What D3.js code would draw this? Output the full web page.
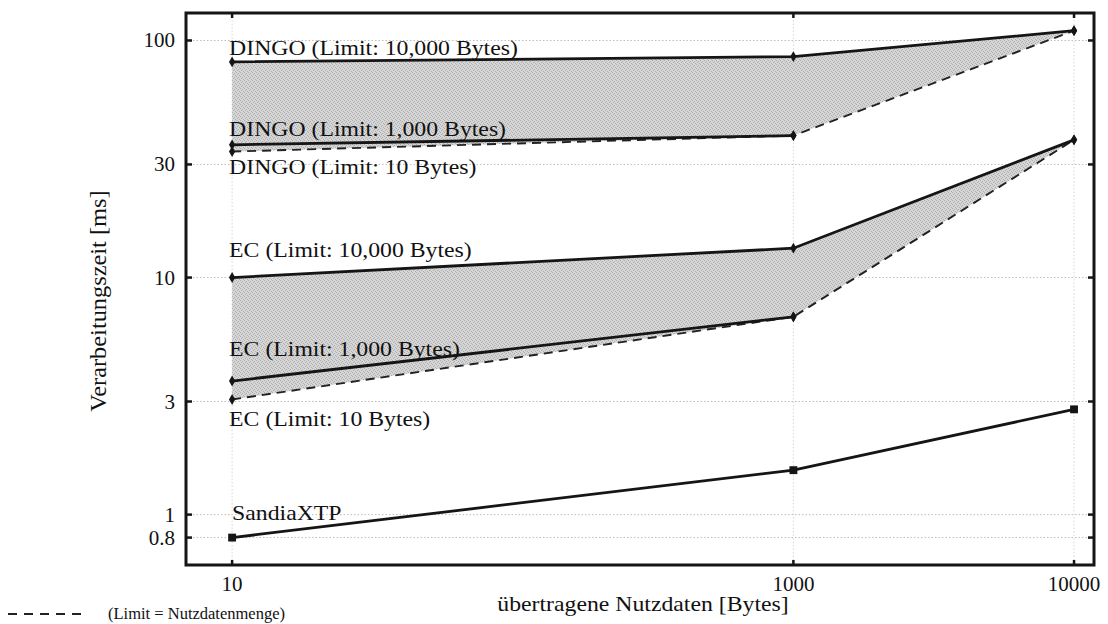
<!DOCTYPE html>
<html><head><meta charset="utf-8">
<script src="https://cdn.jsdelivr.net/npm/d3@7"></script>
<style>body{margin:0;background:#fff}</style>
</head><body><svg id="c" width="1108" height="624"></svg>
<script>
// ---- data ----
const payload = [10, 1000, 10000];
const xTicks = [10, 1000, 10000];
const yTicks = [100, 30, 10, 3, 1, 0.8];
const dingo10000 = [81.2, 85.5, 110];
const dingo1000 = [36.3, 39.7];
const dingoLimitEq = [34.0, 39.7, 110];
const ec10000 = [10.0, 13.3, 38.1];
const ec1000 = [3.66, 6.83];
const ecLimitEq = [3.06, 6.83, 38.1];
const sandia = [0.80, 1.54, 2.78];
const labelTexts = ["DINGO (Limit: 10,000 Bytes)", "DINGO (Limit: 1,000 Bytes)", "DINGO (Limit: 10 Bytes)",
  "EC (Limit: 10,000 Bytes)", "EC (Limit: 1,000 Bytes)", "EC (Limit: 10 Bytes)", "SandiaXTP"];
const labelBaselines = [55, 136, 174, 257, 356, 426, 520];
const xTitle = "übertragene Nutzdaten [Bytes]";
const yTitle = "Verarbeitungszeit [ms]";
const legendText = "(Limit = Nutzdatenmenge)";

// ---- layout ----
const L = 186, R = 1094, T = 13, B = 565;
const svg = d3.select("#c");
const FONT = "'Liberation Serif','Times New Roman',serif";
const x = d3.scaleLog().domain([6.85, 11780]).range([L, R]);
const y = d3.scaleLog().domain([0.613, 130.6]).range([B, T]);

// pattern for shaded regions
const defs = svg.append("defs");
const pat = defs.append("pattern").attr("id", "tex").attr("width", 4).attr("height", 4)
  .attr("patternUnits", "userSpaceOnUse");
pat.append("rect").attr("width", 4).attr("height", 4).attr("fill", "#d6d6d6");
[[0,0],[2,1],[1,2],[3,3]].forEach(p => pat.append("rect").attr("x", p[0]).attr("y", p[1])
  .attr("width", 1).attr("height", 1).attr("fill", "#adadad"));

function stext(g, str, px, py, size, sx, anchor) {
  return g.append("text").attr("transform", `translate(${px},${py}) scale(${sx},1)`)
    .attr("font-family", FONT).attr("font-size", size).attr("fill", "#111")
    .attr("text-anchor", anchor || "start").text(str);
}

// grid
const grid = svg.append("g").attr("stroke", "#bdbdbd").attr("stroke-width", 1).attr("stroke-dasharray", "1.5,2");
yTicks.forEach(v => grid.append("line").attr("x1", L).attr("x2", R).attr("y1", y(v)).attr("y2", y(v)));
xTicks.forEach(v => grid.append("line").attr("x1", x(v)).attr("x2", x(v)).attr("y1", T).attr("y2", B).attr("stroke", "#d6d6d6"));

// shaded areas
const idx = [0, 1, 2];
function band(top, bot) {
  return d3.area().x(i => x(payload[i])).y0(i => y(bot[i])).y1(i => y(top[i]))(idx);
}
svg.append("path").attr("d", band(dingo10000, dingoLimitEq)).attr("fill", "url(#tex)");
svg.append("path").attr("d", band(ec10000, ecLimitEq)).attr("fill", "url(#tex)");

// lines
const line = d3.line().x(d => x(d[0])).y(d => y(d[1]));
function solid(vals) {
  svg.append("path").attr("d", line(vals.map((v, i) => [payload[i], v])))
    .attr("fill", "none").attr("stroke", "#151515").attr("stroke-width", 2.8);
}
function dashed(vals) {
  svg.append("path").attr("d", line(vals.map((v, i) => [payload[i], v])))
    .attr("fill", "none").attr("stroke", "#222").attr("stroke-width", 1.9).attr("stroke-dasharray", "9,6");
}
dashed(dingoLimitEq); dashed(ecLimitEq);
solid(dingo10000); solid(dingo1000); solid(ec10000); solid(ec1000); solid(sandia);

// markers
const diamond = d3.symbol().type(d3.symbolDiamond).size(34)();
const square = d3.symbol().type(d3.symbolSquare).size(62)();
function marks(vals, sym) {
  vals.forEach((v, i) => svg.append("path").attr("d", sym)
    .attr("transform", `translate(${x(payload[i])},${y(v)})`).attr("fill", "#151515"));
}
[dingo10000, dingo1000, dingoLimitEq, ec10000, ec1000, ecLimitEq].forEach(s => marks(s, diamond));
marks(sandia, square);

// frame
svg.append("rect").attr("x", L).attr("y", T).attr("width", R - L).attr("height", B - T)
  .attr("fill", "none").attr("stroke", "#151515").attr("stroke-width", 3);

// ticks
const tk = svg.append("g").attr("stroke", "#151515").attr("stroke-width", 2.5);
yTicks.forEach(v => {
  tk.append("line").attr("x1", L).attr("x2", L + 6).attr("y1", y(v)).attr("y2", y(v));
  tk.append("line").attr("x1", R).attr("x2", R - 6).attr("y1", y(v)).attr("y2", y(v));
});
xTicks.forEach(v => {
  tk.append("line").attr("x1", x(v)).attr("x2", x(v)).attr("y1", B).attr("y2", B - 5);
  tk.append("line").attr("x1", x(v)).attr("x2", x(v)).attr("y1", T).attr("y2", T + 5);
});

// tick labels
yTicks.forEach(v => stext(svg, String(v), 175, y(v) + 7, 21, 1, "end"));
xTicks.forEach(v => stext(svg, String(v), x(v), 591, 21, 1, "middle"));

// series labels
labelTexts.forEach((t, i) => stext(svg, t, x(10) - 3 + (i === 6 ? 3 : 0), labelBaselines[i], 22, 1.08));

// axis titles
stext(svg, xTitle, 643, 611, 22, 1.08, "middle");
svg.append("text").attr("transform", `translate(106,301) rotate(-90) scale(1.06,1)`)
  .attr("font-family", FONT).attr("font-size", 23).attr("fill", "#111")
  .attr("text-anchor", "middle").text(yTitle);

// legend
svg.append("line").attr("x1", 8).attr("x2", 84).attr("y1", 614).attr("y2", 614)
  .attr("stroke", "#222").attr("stroke-width", 1.9).attr("stroke-dasharray", "9,7");
stext(svg, legendText, 108, 619, 16.5, 1);
</script></body></html>
